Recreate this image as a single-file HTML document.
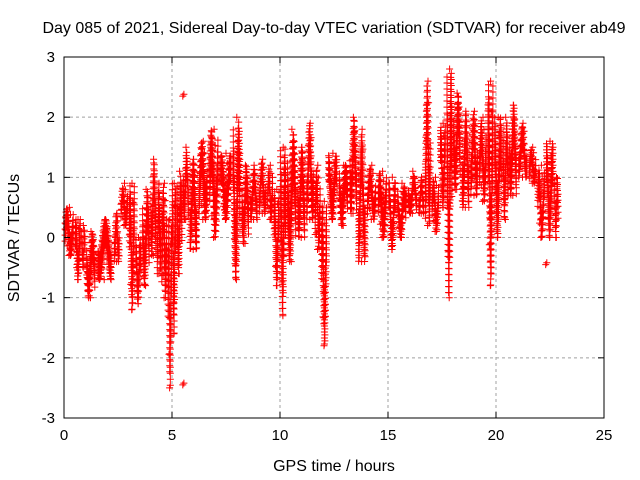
<!DOCTYPE html>
<html><head><meta charset="utf-8"><style>
body{margin:0;background:#fff;}
svg{display:block;font-family:"Liberation Sans",sans-serif;}
</style></head><body>
<svg id="chart" width="640" height="480">
<text x="334" y="33" font-size="16" text-anchor="middle">Day 085 of 2021, Sidereal Day-to-day VTEC variation (SDTVAR) for receiver ab49</text>
<text x="334" y="471" font-size="16" text-anchor="middle">GPS time / hours</text>
<text x="19" y="238" font-size="16" text-anchor="middle" transform="rotate(-90 19 238)">SDTVAR / TECUs</text>
<g id="grid"></g><g id="marks"></g><g id="axes"></g>
</svg>
<script>
const binTimes=[0,0.5,0.8,1.0,1.5,2.3,2.6,3.0,3.3,3.6,4.0,4.3,4.5,4.8,5.0,5.2,5.5,5.8,6.2,6.7,7.2,7.8,8.2,8.6,9.0,9.4,9.7,10.0,10.3,10.8,11.2,11.6,11.9,12.2,12.7,13.2,13.6,14.0,14.5,15.0,15.4,15.9,16.4,16.7,17.0,17.4,17.7,18.0,18.4,18.8,19.2,19.6,19.9,20.3,20.6,21.0,21.5,21.9,22.3,22.7,22.9];
const binLow=[-0.3,-0.7,-0.5,-1.0,-0.7,-0.4,0.2,-1.2,-1.1,-0.8,-0.3,-0.6,-1.0,-2.5,-1.6,-0.6,0.3,-0.2,0.3,0,0.3,-0.7,-0.1,0.3,0.4,0.3,-0.8,-1.3,-0.4,0,0.3,-0.2,-1.8,0.3,0.2,0.4,-0.4,0.3,0,-0.2,0,0.4,0.4,0.2,0.1,0.5,-1.0,0.8,0.5,0.7,0.6,-0.8,0,0.3,0.7,1.0,0.9,0,0,0];
const binHigh=[0.5,0.3,0.2,0.1,0.3,0.4,0.9,0.9,0.0,0.8,1.3,0.9,0.9,0.3,0.9,1.1,1.5,1.3,1.6,1.8,1.4,2.0,1.2,1.2,1.3,1.2,0.8,1.5,1.8,1.5,1.9,1.2,0.6,1.4,1.2,2.0,1.8,1.2,1.1,1.0,0.9,1.1,1.0,2.6,1.0,1.9,2.8,2.4,2.1,2.1,2.0,2.6,2.0,2.0,2.2,1.9,1.5,1.2,1.6,1.0];
const outlierTimes=[5.5,5.5,22.3];
const outlierVals=[2.35,-2.45,-0.45];
const xTicks=[0,5,10,15,20,25];
const yTicks=[-3,-2,-1,0,1,2,3];
const L=64,R=604,T=57,B=418;
const xs=t=>L+(t/25)*(R-L);
const ys=v=>B-((v+3)/6)*(B-T);
const NS="http://www.w3.org/2000/svg";
function mk(tag,attrs,parent){const e=document.createElementNS(NS,tag);for(const k in attrs)e.setAttribute(k,attrs[k]);parent.appendChild(e);return e;}
const grid=document.getElementById('grid'),marks=document.getElementById('marks'),axes=document.getElementById('axes');
xTicks.forEach(t=>{
 if(t>0&&t<25){const g=mk('line',{x1:xs(t),x2:xs(t),y1:T,y2:B,stroke:'#a0a0a0','stroke-dasharray':'3,3'},grid);
 
 }
 mk('line',{x1:xs(t),x2:xs(t),y1:B,y2:B-6,stroke:'#000'},axes);
 mk('line',{x1:xs(t),x2:xs(t),y1:T,y2:T+6,stroke:'#000'},axes);
 const tx=mk('text',{x:xs(t),y:B+22,'font-size':15,'text-anchor':'middle'},axes);tx.textContent=t;
 
 
});
yTicks.forEach(v=>{
 if(v>-3&&v<3){const g=mk('line',{x1:L,x2:R,y1:ys(v),y2:ys(v),stroke:'#a0a0a0','stroke-dasharray':'3,3'},grid);
 
 }
 mk('line',{x1:L,x2:L+6,y1:ys(v),y2:ys(v),stroke:'#000'},axes);
 mk('line',{x1:R,x2:R-6,y1:ys(v),y2:ys(v),stroke:'#000'},axes);
 const tx=mk('text',{x:L-9,y:ys(v)+5,'font-size':15,'text-anchor':'end'},axes);tx.textContent=v;
 
 
});
const fr=mk('rect',{x:L,y:T,width:R-L,height:B-T,fill:'none',stroke:'#000'},axes);


let d='';
function plus(t,v){const x=xs(t),y=ys(v);d+=`M${(x-3.5).toFixed(1)} ${y.toFixed(1)}h7M${x.toFixed(1)} ${(y-3.5).toFixed(1)}v7`;}
for(let i=0;i<binLow.length;i++){
 const t0=binTimes[i],t1=binTimes[i+1],w=t1-t0;
 const lo=binLow[i],hi=binHigh[i],span=hi-lo;
 const n=Math.max(3,Math.round(w/0.03));
 for(let k=0;k<n;k++){
  const f=k/(n-1);
  const t=t0+w*(0.1+0.75*f);
  const h=span*0.2;
  const c=lo+h+(span-2*h)*(0.5+0.5*Math.sin(f*Math.PI*2.2+i));
  for(let v=c-h;v<=c+h+1e-9;v+=0.1)plus(t,Math.max(lo,Math.min(hi,v)));
 }
 plus(t0+w*0.5,hi);plus(t0+w*0.45,lo);plus(t0+w*0.3,lo+span*0.2);plus(t0+w*0.6,hi-span*0.15);
}
outlierTimes.forEach((t,i)=>{plus(t,outlierVals[i]);plus(t+0.05,outlierVals[i]+0.03);});
const p=mk('path',{d:d,stroke:'#ff0000','stroke-width':1,fill:'none'},marks);


</script>
</body></html>
